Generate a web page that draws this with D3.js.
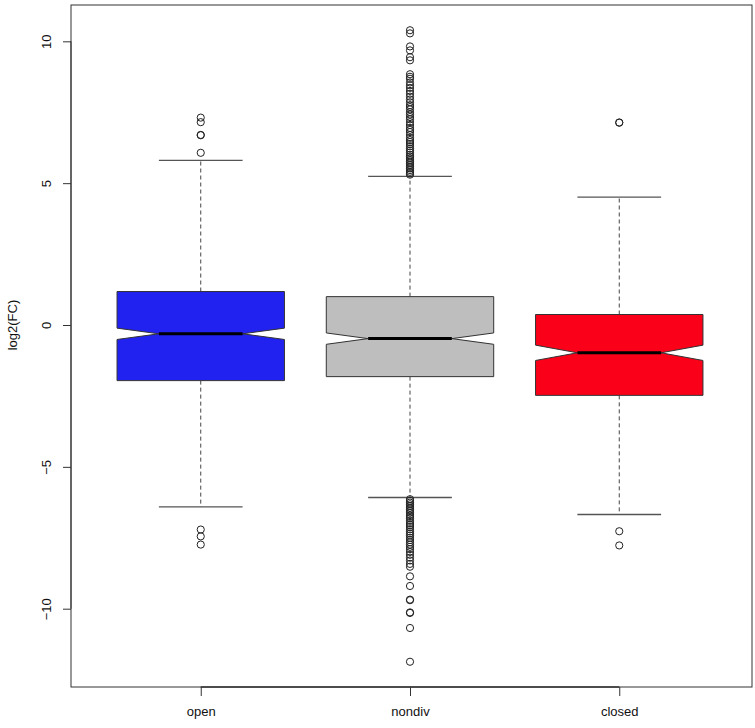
<!DOCTYPE html>
<html><head><meta charset="utf-8">
<script src="https://cdn.jsdelivr.net/npm/d3@7"></script>
<style>body{margin:0;background:#fff}svg{display:block;font-family:"Liberation Sans",Arial,sans-serif}</style>
</head><body><svg id="c" width="755" height="728"></svg>
<script>
const categories = ["open", "nondiv", "closed"];
const colors = ["#2222f0", "#bebebe", "#fb0019"];
const q1 = [-1.96, -1.82, -2.48];
const medians = [-0.31, -0.48, -0.98];
const q3 = [1.18, 1.0, 0.37];
const notchLo = [-0.51, -0.68, -1.25];
const notchHi = [-0.11, -0.28, -0.71];
const whiskerLo = [-6.41, -6.08, -6.68];
const whiskerHi = [5.8, 5.24, 4.51];
const outliersOpen = [7.31, 7.15, 6.69, 6.7, 6.07, -7.21, -7.45, -7.74];
const outliersNondiv = [10.39, 10.28, 9.82, 9.68, 9.44, 9.33,
  8.84, 8.75, 8.68, 8.55, 8.45, 8.36, 8.25, 8.15, 8.05, 7.95, 7.85, 7.75, 7.68, 7.6, 7.5, 7.42, 7.33, 7.25,
  7.15, 7.05, 6.95, 6.88, 6.8, 6.7, 6.6, 6.52, 6.45, 6.38, 6.3, 6.22, 6.15, 6.08, 6.0, 5.94, 5.88, 5.82,
  5.76, 5.7, 5.64, 5.58, 5.52, 5.46, 5.4, 5.35, 5.3,
  -6.14, -6.2, -6.26, -6.32, -6.38, -6.44, -6.5, -6.56, -6.62, -6.7, -6.76, -6.82, -6.9, -6.98, -7.05,
  -7.12, -7.2, -7.28, -7.35, -7.42, -7.5, -7.58, -7.66, -7.74, -7.82, -7.9, -8.0, -8.1, -8.2, -8.3, -8.42, -8.52,
  -8.86, -9.2, -9.68, -9.7, -10.13, -10.15, -10.68, -11.87];
const outliersClosed = [7.13, 7.14, -7.27, -7.77];
const outliers = [outliersOpen, outliersNondiv, outliersClosed];
const yTicks = [-10, -5, 0, 5, 10];
const yLabel = "log2(FC)";

const svg = d3.select("#c");
const L = 71, R = 752, T = 5, B = 687;
const x = d3.scaleLinear().domain([0.38, 3.62]).range([L, 749]);
const y = d3.scaleLinear().domain([-12.76, 11.28]).range([B, T]);
const halfW = (x(1.4) - x(1));

// frame
svg.append("rect").attr("x", L).attr("y", T).attr("width", R - L).attr("height", B - T)
  .attr("fill", "none").attr("stroke", "#333").attr("stroke-width", 1);

// y axis
const yAxis = d3.axisLeft(y).tickValues(yTicks).tickSize(8).tickPadding(4).tickFormat(d3.format("d"));
const gy = svg.append("g").attr("transform", `translate(${L},0)`).call(yAxis);
gy.select(".domain").attr("d", `M0,${y(-10)}V${y(10)}`).attr("stroke", "#333");
gy.selectAll(".tick line").attr("stroke", "#333");
gy.selectAll(".tick text").attr("transform", "rotate(-90)").attr("x", 0).attr("y", -20)
  .attr("dy", "0").attr("text-anchor", "middle").attr("font-size", 13).attr("fill", "#111")
  .attr("font-family", "Liberation Sans, Arial, sans-serif");

// x axis
const xAxis = d3.axisBottom(x).tickValues([1, 2, 3]).tickSize(9).tickPadding(11)
  .tickFormat((d) => categories[d - 1]);
const gx = svg.append("g").attr("transform", `translate(0,${B})`).call(xAxis);
gx.select(".domain").attr("d", `M${x(1)},0H${x(3)}`).attr("stroke", "#333").attr("stroke-width", 1.5);
gx.selectAll(".tick line").attr("stroke", "#333");
gx.selectAll(".tick text").attr("font-size", 13).attr("fill", "#111")
  .attr("font-family", "Liberation Sans, Arial, sans-serif");

svg.append("text").attr("transform", `translate(17,${y(0)}) rotate(-90)`)
  .attr("text-anchor", "middle").attr("font-size", 13).attr("fill", "#111").text(yLabel);

categories.forEach((c, i) => {
  const cx = x(i + 1);
  const g = svg.append("g");
  // whiskers
  g.append("line").attr("x1", cx).attr("x2", cx).attr("y1", y(q3[i])).attr("y2", y(whiskerHi[i]))
    .attr("stroke", "#444").attr("stroke-dasharray", "4,3");
  g.append("line").attr("x1", cx).attr("x2", cx).attr("y1", y(q1[i])).attr("y2", y(whiskerLo[i]))
    .attr("stroke", "#444").attr("stroke-dasharray", "4,3");
  [whiskerHi[i], whiskerLo[i]].forEach(v => {
    g.append("line").attr("x1", cx - halfW / 2).attr("x2", cx + halfW / 2)
      .attr("y1", y(v)).attr("y2", y(v)).attr("stroke", "#555").attr("stroke-width", 1.3);
  });
  // notched box
  const pts = [
    [cx - halfW, y(q3[i])], [cx - halfW, y(notchHi[i])], [cx - halfW / 2, y(medians[i])],
    [cx - halfW, y(notchLo[i])], [cx - halfW, y(q1[i])], [cx + halfW, y(q1[i])],
    [cx + halfW, y(notchLo[i])], [cx + halfW / 2, y(medians[i])], [cx + halfW, y(notchHi[i])],
    [cx + halfW, y(q3[i])]
  ];
  g.append("path").attr("d", d3.line()(pts) + "Z").attr("fill", colors[i])
    .attr("stroke", "#333").attr("stroke-width", 1);
  g.append("line").attr("x1", cx - halfW / 2).attr("x2", cx + halfW / 2)
    .attr("y1", y(medians[i])).attr("y2", y(medians[i])).attr("stroke", "#000").attr("stroke-width", 3);
  // outliers
  g.selectAll("circle").data(outliers[i]).join("circle")
    .attr("cx", cx).attr("cy", d => y(d)).attr("r", 3.6)
    .attr("fill", "none").attr("stroke", "#222").attr("stroke-width", 1);
});
</script></body></html>
